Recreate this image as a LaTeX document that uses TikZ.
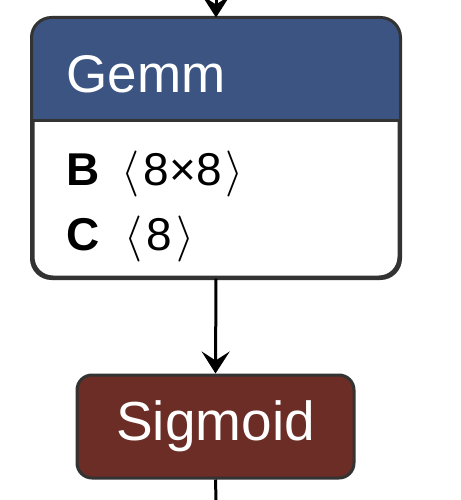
\documentclass[tikz,border=0pt]{standalone}
\usepackage{fontspec}
\usepackage{unicode-math}
\setmainfont{Liberation Sans}
\usetikzlibrary{arrows.meta}

\definecolor{layercol}{RGB}{59,84,130}
\definecolor{activcol}{RGB}{107,45,38}
\definecolor{edgecol}{RGB}{51,51,51}

\begin{document}
\begin{tikzpicture}[
        x = 1pt, y = -1pt, % pixel units, y down
        > = {Stealth[length=22pt, width=28pt, inset=9pt]}, % arrow head style
        line width = 3pt, % line style
      ]

      \tikzstyle{box}=[rectangle, draw=edgecol, inner sep=0pt]
      \tikzstyle{label}=[anchor=base west, inner sep=0pt]

      \useasboundingbox (0,0) rectangle (460,500);

      \coordinate (in) at (216,0);
      \coordinate (out) at (216,500);

      % Gemm block with header
      \node[box, fill=white, rounded corners=20pt, minimum width=366pt, minimum height=258pt] (gemm) at (216,148) {};
      \begin{scope}
        \clip[rounded corners=20pt] (gemm.north west) rectangle (gemm.south east);
        \fill[layercol] (gemm.north west) rectangle ([yshift=-103pt]gemm.north east);
      \end{scope}
      \draw[edgecol] ([yshift=-103pt]gemm.north west) -- ([yshift=-103pt]gemm.north east);
      \draw[edgecol, rounded corners=20pt] (gemm.north west) rectangle (gemm.south east);

      \node[label, text=white, font=\fontsize{53}{60}\selectfont] (title) at (65,93) {Gemm};
      \node[label, font=\fontsize{46}{52}\selectfont] (attrb) at (65,185) {\textbf{B}\hspace{22pt}$\langle$\hspace{4pt}8×8\hspace{4pt}$\rangle$};
      \node[label, font=\fontsize{46}{52}\selectfont] (attrc) at (65,250) {\textbf{C}\hspace{25pt}$\langle$\hspace{4pt}8\hspace{4pt}$\rangle$};

      % Sigmoid block
      \node[box, fill=activcol, rounded corners=15pt, minimum width=277pt, minimum height=103pt,
            text=white, font=\fontsize{55}{60}\selectfont] (sig) at (215.5,426.5) {Sigmoid};

      \draw[->] (in) -- (gemm.north);
      \draw[->] (gemm.south) -- (sig.north);
      \draw (sig.south) -- (out);

    \end{tikzpicture}
\end{document}
